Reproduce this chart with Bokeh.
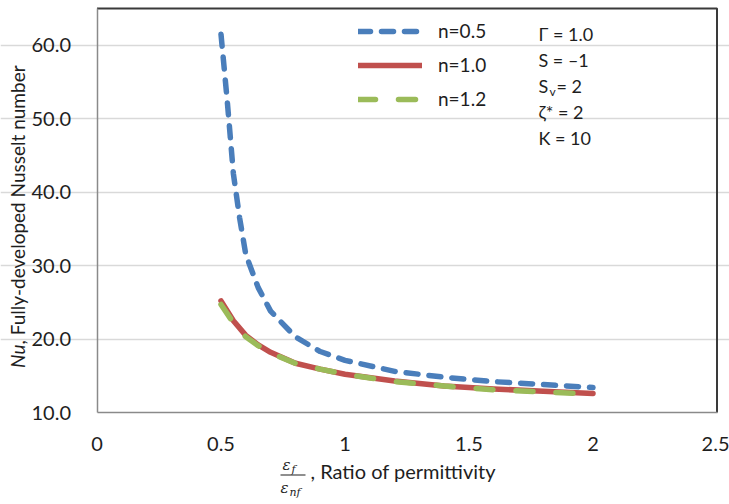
import math
from bokeh.plotting import figure
from bokeh.models import (Label, Legend, LegendItem, FixedTicker, NumeralTickFormatter,
                          Range1d, BoxAnnotation)
from bokeh.embed import file_html
from bokeh.resources import INLINE

# ---- data ----
x_n05 = [0.50, 0.525, 0.55, 0.575, 0.60, 0.65, 0.70, 0.80, 0.90, 1.00, 1.20, 1.40, 1.60, 1.80, 2.00]
nu_n05 = [61.5, 52.5, 42.5, 36.5, 31.5, 27.0, 23.8, 20.3, 18.3, 17.1, 15.6, 14.8, 14.2, 13.8, 13.4]

x_n10 = [0.50, 0.55, 0.60, 0.65, 0.70, 0.80, 0.90, 1.00, 1.20, 1.40, 1.60, 1.80, 2.00]
nu_n10 = [25.2, 22.5, 20.5, 19.2, 18.2, 16.7, 15.9, 15.2, 14.3, 13.6, 13.2, 12.9, 12.6]

x_n12 = [0.50, 0.55, 0.60, 0.65, 0.70, 0.80, 0.90, 1.00, 1.20, 1.40, 1.60, 1.80, 2.00]
nu_n12 = [24.7, 22.2, 20.3, 19.1, 18.1, 16.7, 15.9, 15.2, 14.2, 13.6, 13.1, 12.8, 12.5]

series_names = ["n=0.5", "n=1.0", "n=1.2"]
x_ticks = [0, 0.5, 1, 1.5, 2, 2.5]
y_ticks = [10, 20, 30, 40, 50, 60]
x_lim = (0, 2.5)
y_lim = (10, 65)
params = ["\u0393 = 1.0", "S = \u20131", "S", "\u03b6* = 2", "K = 10"]

FONT = "Lato"
TXT = "#1e1e1e"
GRAY = "#8a8a8a"

W, H = 729, 504
# where the plot area sits on the canvas (pixels)
PL, PR, PT, PB = 96.5, 716.5, 8.0, 412.0
sx = (PR - PL) / (x_lim[1] - x_lim[0])
sy = (PB - PT) / (y_lim[1] - y_lim[0])
xr = Range1d(x_lim[0] - PL / sx, x_lim[1] + (W - PR) / sx)
yr = Range1d(y_lim[0] - (H - PB) / sy, y_lim[1] + PT / sy)

p = figure(width=W, height=H, output_backend="svg", toolbar_location=None,
           x_range=xr, y_range=yr,
           min_border_left=0, min_border_right=0, min_border_top=0, min_border_bottom=0)
p.background_fill_color = "white"
p.border_fill_color = "white"
p.outline_line_color = None

p.xgrid.grid_line_color = None
p.ygrid.grid_line_color = "#d9d9d9"
p.ygrid.grid_line_width = 1.5
p.ygrid.bounds = x_lim
p.ygrid.ticker = FixedTicker(ticks=y_ticks[1:])

p.xaxis.fixed_location = y_lim[0]
p.yaxis.fixed_location = x_lim[0]
p.xaxis.bounds = x_lim
p.yaxis.bounds = y_lim
for ax in (p.xaxis[0], p.yaxis[0]):
    ax.axis_line_color = GRAY
    ax.axis_line_width = 1.5
    ax.major_tick_line_color = None
    ax.minor_tick_line_color = None
    ax.major_label_text_font = FONT
    ax.major_label_text_font_size = "20px"
    ax.major_label_text_color = TXT

p.xaxis.ticker = FixedTicker(ticks=x_ticks)
p.yaxis.ticker = FixedTicker(ticks=y_ticks)
p.xaxis.formatter = NumeralTickFormatter(format="0.[0]")
p.yaxis.formatter = NumeralTickFormatter(format="0.0")
p.xaxis.major_label_standoff = 18
p.yaxis.major_label_standoff = 20

# darker top and right edges of the plot area
p.line(x=[x_lim[0], x_lim[1], x_lim[1]], y=[y_lim[1], y_lim[1], y_lim[0]],
       line_color="#3a3a3a", line_width=2)

r1 = p.line(x_n05, nu_n05, line_color="#4A7EBB", line_width=5.5, line_dash="12 11",
            line_cap="round", line_join="round")
r2 = p.line(x_n10, nu_n10, line_color="#C0504D", line_width=5.5, line_cap="round",
            line_join="round")
r3 = p.line(x_n12, nu_n12, line_color="#9BBB59", line_width=5.5, line_dash="17 23",
            line_cap="round", line_join="round")

def fx(cx):
    return cx

def fy(cy):
    return H - cy

# legend
leg_top = 22
legend = Legend(items=[LegendItem(label=series_names[0], renderers=[r1]),
                       LegendItem(label=series_names[1], renderers=[r2]),
                       LegendItem(label=series_names[2], renderers=[r3])],
                location=(fx(358), fy(leg_top + 3 * 22 + 2 * 11)),
                orientation="vertical", padding=0, margin=0, spacing=11,
                glyph_width=64, glyph_height=20, label_height=20,
                label_standoff=16, border_line_color=None, background_fill_alpha=0,
                label_text_font=FONT, label_text_font_size="19px", label_text_color=TXT)
p.add_layout(legend, "center")

def lab(text, cx, cy, size="18px", style="normal", font=FONT, align="left",
        baseline="middle", angle=0.0):
    p.add_layout(Label(x=fx(cx), y=fy(cy), x_units="screen", y_units="screen", text=text,
                       text_font=font, text_font_size=size, text_font_style=style,
                       text_color=TXT, text_align=align, text_baseline=baseline,
                       angle=angle))

# parameter block
lab(params[0], 538, 33)
lab(params[1], 538, 59)
lab(params[2], 538, 85)
lab("v", 549, 91, size="12px")
lab(" = 2", 556, 85)
lab(params[3], 538, 111)
lab(params[4], 538, 137)

# y-axis title
lab("Nu", 17, 344, size="19px", style="italic", align="right", angle=math.pi / 2)
lab(", Fully-developed Nusselt number", 17, 344, size="19px", align="left", angle=math.pi / 2)

# x-axis title (fraction)
SERIF = "DejaVu Serif"
lab("\u03b5", 282, 464, size="15px", style="italic", font=SERIF)
lab("f", 291, 469, size="11px", style="italic", font=SERIF)
p.add_layout(BoxAnnotation(left=fx(280), right=fx(305), bottom=fy(475), top=fy(474),
                           left_units="screen", right_units="screen",
                           bottom_units="screen", top_units="screen",
                           fill_color="#1e1e1e", fill_alpha=1, line_color=None))
lab("\u03b5", 280, 487, size="15px", style="italic", font=SERIF)
lab("nf", 289, 492, size="11px", style="italic", font=SERIF)
lab(", Ratio of permittivity", 310, 470, size="20px")

open("out.html", "w").write(file_html(p, INLINE))
